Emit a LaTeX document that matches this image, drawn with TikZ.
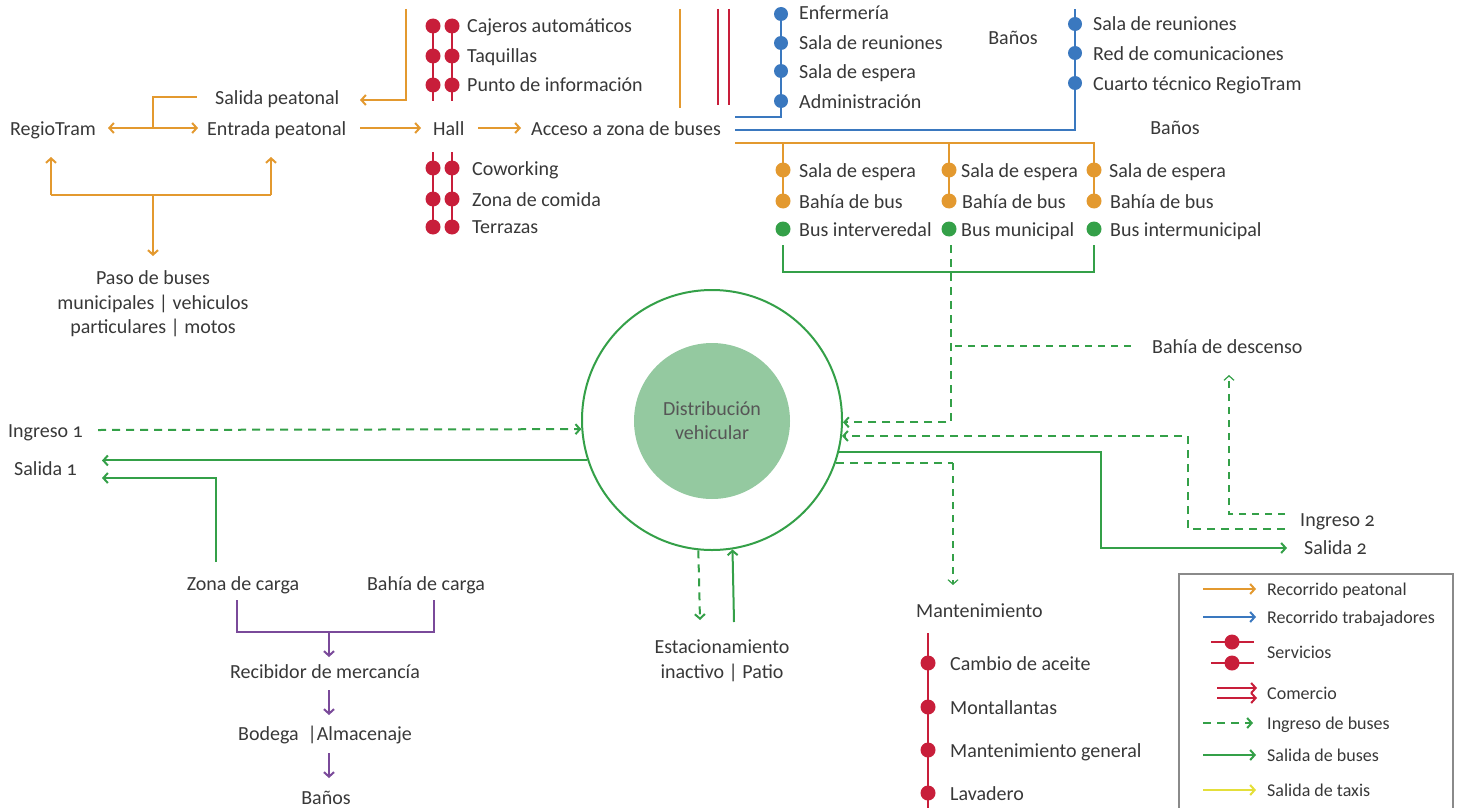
\documentclass[tikz,border=0pt]{standalone}
\usepackage{fontspec}
\setmainfont{Carlito}[Numbers=OldStyle]
\usetikzlibrary{arrows.meta}

\definecolor{ped}{HTML}{E3992F}
\definecolor{trab}{HTML}{3A78BF}
\definecolor{serv}{HTML}{C81E3A}
\definecolor{bus}{HTML}{34A048}
\definecolor{carga}{HTML}{7A4A9A}
\definecolor{core}{HTML}{94C9A0}
\definecolor{ink}{HTML}{383838}
\definecolor{taxi}{HTML}{E4DF3A}
\definecolor{frame}{HTML}{8A8A8A}

\tikzset{
  lbl/.style={font=\fontsize{20}{24}\selectfont, text=ink, inner sep=0pt,
              anchor=base, yshift=-7pt},
  lblw/.style={lbl, anchor=base west},
  multi/.style={font=\fontsize{20}{24.5}\selectfont, text=ink, inner sep=0pt, align=center},
  leg/.style={font=\fontsize{18}{22}\selectfont, text=ink, inner sep=0pt,
              anchor=base west, yshift=-6.5pt},
  tip/.style={-{Straight Barb[length=4.5pt,width=10pt]}},
  pedl/.style={draw=ped, line width=2pt},
  trabl/.style={draw=trab, line width=2pt},
  servl/.style={draw=serv, line width=2.5pt},
  coml/.style={draw=serv, line width=2pt},
  outl/.style={draw=bus, line width=2pt},
  inl/.style={draw=bus, line width=2pt, dash pattern=on 8pt off 6pt},
  inthin/.style={draw=bus, line width=1.2pt, dash pattern=on 7pt off 6pt},
  cargal/.style={draw=carga, line width=2pt},
  taxil/.style={draw=taxi, line width=2pt},
}

\begin{document}
\begin{tikzpicture}[x=1pt,y=-1pt]
\useasboundingbox (0,0) rectangle (1461,808);
\clip (0,0) rectangle (1461,808);

% ---------- pedestrian route ----------
\node[lbl] (regio) at (53,128) {RegioTram};
\node[lblw] (salped) at (215,97) {Salida peatonal};
\node[lblw] (entped) at (207,128) {Entrada peatonal};
\node[lblw] (hall) at (433,128) {Hall};
\node[lblw] (acceso) at (531,128) {Acceso a zona de buses};
\node[multi] (paso) at (153,304) {Paso de buses\\municipales | vehiculos\\particulares | motos};

\coordinate (split) at (153,128);
\coordinate (regioIn) at (108,128);
\coordinate (entIn) at (198,128);
\coordinate (salEnd) at (197,97);
\coordinate (entOut) at (360,128);
\coordinate (hallIn) at (421,128);
\coordinate (hallOut) at (478,128);
\coordinate (accIn) at (521,128);
\coordinate (topPed) at (406,9);
\coordinate (salIn) at (360,100);
\coordinate (base) at (153,195);
\coordinate (regioUp) at (51,157);
\coordinate (entUp) at (271,157);
\coordinate (pasoIn) at (153,256);

\draw[pedl,tip] (split) -- (regioIn);
\draw[pedl,tip] (split) -- (entIn);
\draw[pedl] (split) |- (salEnd);
\draw[pedl,tip] (entOut) -- (hallIn);
\draw[pedl,tip] (hallOut) -- (accIn);
\draw[pedl,tip] (topPed) |- (salIn);
\draw[pedl] (regioUp |- base) -- (entUp |- base);
\draw[pedl,tip] (regioUp |- base) -- (regioUp);
\draw[pedl,tip] (entUp |- base) -- (entUp);
\draw[pedl,tip] (base) -- (pasoIn);

% ---------- services around the hall ----------
\node[lblw] (cajeros) at (467,26) {Cajeros automáticos};
\node[lblw] (taquillas) at (467,56) {Taquillas};
\node[lblw] (punto) at (467,85) {Punto de información};
\node[lblw] (cowork) at (472,168) {Coworking};
\node[lblw] (comida) at (472,199) {Zona de comida};
\node[lblw] (terrazas) at (472,226) {Terrazas};

\foreach \x in {433,452}{
  \draw[servl] (\x,26) -- (\x,101);
  \draw[servl] (\x,152) -- (\x,227);
  \foreach \y in {26,56,85,168,199,227}
    \fill[serv] (\x,\y) circle (7.5pt);
}

% pedestrian branch and commerce lines leaving the top
\draw[pedl] (680,9) -- (680,108);
\draw[coml] (718,9) -- (718,105);
\draw[coml] (729,9) -- (729,105);

% ---------- staff route ----------
\node[lblw] (enfer) at (799,13) {Enfermería};
\node[lblw] (reun1) at (799,42) {Sala de reuniones};
\node[lblw] (esp0) at (799,71) {Sala de espera};
\node[lblw] (admin) at (799,101) {Administración};
\node[lbl] (banos1) at (1013,38) {Baños};
\node[lblw] (reun2) at (1093,24) {Sala de reuniones};
\node[lblw] (red) at (1093,53) {Red de comunicaciones};
\node[lblw] (cuarto) at (1093,83) {Cuarto técnico RegioTram};
\node[lbl] (banos2) at (1175,127) {Baños};

\draw[trabl] (781,9) |- (735,117);
\draw[trabl] (735,130) -| (1075,9);
\foreach \y in {14,43,71,101} \fill[trab] (781,\y) circle (7pt);
\foreach \y in {24,53,83} \fill[trab] (1075,\y) circle (7pt);

% ---------- bus bays ----------
\draw[pedl] (735,143) -- (1095,143);
\foreach \x in {783,949,1094}{
  \draw[pedl] (\x,143) -- (\x,201);
  \fill[ped] (\x,170) circle (7.5pt);
  \fill[ped] (\x,201) circle (7.5pt);
  \fill[bus] (\x,229) circle (7.5pt);
}
\node[lblw] (espA) at (799,170) {Sala de espera};
\node[lblw] (bahA) at (799,201) {Bahía de bus};
\node[lblw] (busA) at (799,229) {Bus interveredal};
\node[lblw] (espB) at (961,170) {Sala de espera};
\node[lblw] (bahB) at (962,201) {Bahía de bus};
\node[lblw] (busB) at (961,229) {Bus municipal};
\node[lblw] (espC) at (1109,170) {Sala de espera};
\node[lblw] (bahC) at (1110,201) {Bahía de bus};
\node[lblw] (busC) at (1110,229) {Bus intermunicipal};

\draw[outl] (783,245) |- (1094,272) -- (1094,245);

% ---------- vehicle distribution ring ----------
\node[circle, draw=bus, line width=2pt, minimum size=260pt, inner sep=0pt] (rot) at (712,420) {};
\node[circle, fill=core, minimum size=156pt, inner sep=0pt, align=center,
      font=\fontsize{20}{24}\selectfont, text=ink!85] (core) at (712,421) {Distribución\\vehicular};

% bus entries and exits on the right
\node[lblw] (descenso) at (1152,346) {Bahía de descenso};
\node[lblw] (ing2) at (1300,519) {Ingreso 2};
\node[lblw] (sal2) at (1304,547) {Salida 2};
\node[lblw] (mant) at (916,610) {Mantenimiento};

\coordinate (bayOut) at (951,245);
\coordinate (ing2a) at (1285,529);
\coordinate (ing2b) at (1285,514);
\coordinate (descIn) at (1229,375);
\coordinate (sal2In) at (1287,548);
\coordinate (mantJ) at (953,463);
\coordinate (mantIn) at (953,585);

\draw[inl,tip] (bayOut) |- (rot.-1.3);
\draw[inthin] (955,346) -- (1135,346);
\draw[inl,tip] (ing2a) -- (1188,529) |- (rot.-7.5);
\draw[inthin,tip] (ing2b) -| (descIn);
\draw[outl,tip] (rot.-14.1) -| (1101,548) -- (sal2In);
\draw[inl] (rot.-19.2) -- (rot.-19.2 -| mantJ);
\draw[inthin,tip] (mantJ) -- (mantIn);

% bus entries and exits on the left
\node[lblw] (ing1) at (8,430) {Ingreso 1};
\node[lblw] (sal1) at (14,468) {Salida 1};
\coordinate (ing1Out) at (98,430);
\coordinate (sal1In) at (102,461);
\coordinate (sal1InB) at (102,478);
\coordinate (cargaOut) at (216,562);

\draw[inl,tip] (ing1Out) -- (rot.184.4);
\draw[outl,tip] (rot.198.2) -- (rot.198.2 -| sal1In);
\draw[outl,tip] (cargaOut) |- (sal1InB);

% parking yard below the ring
\node[multi] (patio) at (722,661) {Estacionamiento\\inactivo | Patio};
\coordinate (patioIn) at (700,620);
\coordinate (patioOut) at (734,622);
\draw[inl,tip] (rot.264.7) -- (patioIn);
\draw[outl,tip] (patioOut) -- (rot.279.7);

% ---------- goods reception ----------
\node[lbl] (zcarga) at (243,583) {Zona de carga};
\node[lbl] (bcarga) at (426,583) {Bahía de carga};
\node[lbl] (recib) at (325,671) {Recibidor de mercancía};
\node[lbl] (bodega) at (325,733) {Bodega~~|Almacenaje};
\node[lbl] (banos3) at (326,797) {Baños};

\coordinate (goods) at (329,632);
\draw[cargal] (237,600) |- (434,632) -- (434,600);
\draw[cargal,tip] (goods) -- (329,657);
\draw[cargal,tip] (329,690) -- (329,715);
\draw[cargal,tip] (329,753) -- (329,778);

% ---------- maintenance ----------
\node[lblw] (aceite) at (950,663) {Cambio de aceite};
\node[lblw] (llantas) at (950,707) {Montallantas};
\node[lblw] (mgral) at (950,750) {Mantenimiento general};
\node[lblw] (lavad) at (950,793) {Lavadero};
\draw[servl] (928,633) -- (928,812);
\foreach \y in {663,707,750,793} \fill[serv] (928,\y) circle (7.5pt);

% ---------- legend ----------
\draw[frame, line width=1.5pt] (1179,574) rectangle (1453,830);
\draw[pedl,tip] (1203,589) -- (1256,589);
\node[leg] (lg1) at (1267,589) {Recorrido peatonal};
\draw[trabl,tip] (1203,617) -- (1256,617);
\node[leg] (lg2) at (1267,617) {Recorrido trabajadores};
\draw[servl] (1211,642) -- (1254,642);
\draw[servl] (1211,663) -- (1254,663);
\fill[serv] (1232,642) circle (7.5pt);
\fill[serv] (1232,663) circle (7.5pt);
\node[leg] (lg3) at (1267,652) {Servicios};
\draw[coml,tip] (1217,688) -- (1257,688);
\draw[coml,tip] (1217,698) -- (1257,698);
\node[leg] (lg4) at (1267,693) {Comercio};
\draw[inl,tip] (1203,723) -- (1253,723);
\node[leg] (lg5) at (1267,723) {Ingreso de buses};
\draw[outl,tip] (1203,755) -- (1256,755);
\node[leg] (lg6) at (1267,755) {Salida de buses};
\draw[taxil,tip] (1203,790) -- (1256,790);
\node[leg] (lg7) at (1267,790) {Salida de taxis};
\end{tikzpicture}
\end{document}
